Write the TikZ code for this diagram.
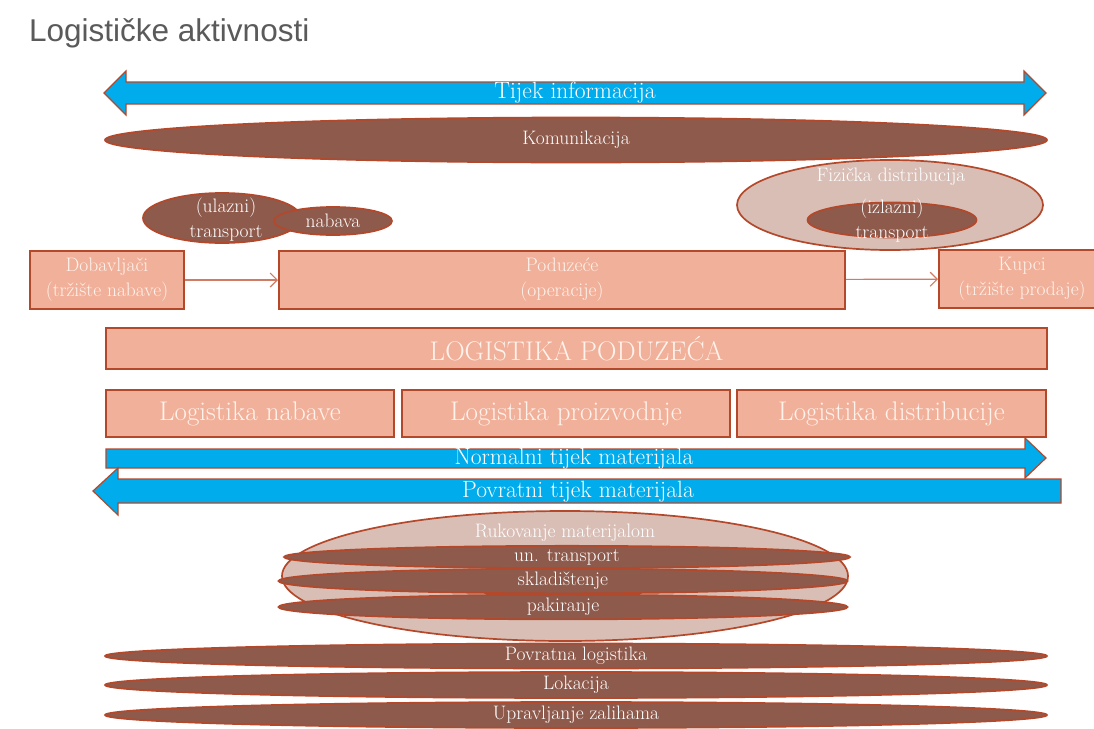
\documentclass[tikz,border=0pt]{standalone}
\usepackage{fontspec}
\newfontfamily\titlefont{Liberation Sans}
\usetikzlibrary{shapes.geometric,arrows.meta}
\definecolor{edgec}{RGB}{180,72,42}
\definecolor{boxfill}{RGB}{241,176,154}
\definecolor{darkfill}{RGB}{142,90,76}
\definecolor{lightfill}{RGB}{217,190,182}
\definecolor{bluec}{RGB}{0,172,236}
\definecolor{boxtext}{RGB}{255,243,236}
\definecolor{titlec}{RGB}{90,90,90}
\definecolor{linkc}{RGB}{208,124,100}
\newcommand\lblsmall{\fontsize{19.5}{25}\selectfont}
\newcommand\lblmid{\fontsize{23.5}{26}\selectfont}
\newcommand\lblbig{\fontsize{27}{29}\selectfont}
\tikzset{
 salbox/.style={draw=edgec, line width=2pt, fill=boxfill, rectangle, inner sep=0pt, text=boxtext, align=center},
 darkell/.style={draw=edgec, line width=1.7pt, fill=darkfill, ellipse, inner sep=0pt, text=white, font=\lblsmall},
 lightell/.style={draw=edgec, line width=1.7pt, fill=lightfill, ellipse, inner sep=0pt},
 bluearr/.style={draw=edgec, line width=1.2pt, fill=bluec},
 lbl/.style={text=white, inner sep=0pt, align=center},
 link/.style={draw=linkc, line width=1.2pt, -{Straight Barb[length=7pt,width=14pt]}},
}
\begin{document}
\begin{tikzpicture}[x=1pt,y=-1pt]
\useasboundingbox (0,0) rectangle (1094,728);
\fill[white] (0,0) rectangle (1094,728);
% title
\node[anchor=west, text=titlec, inner sep=0pt, font=\titlefont\fontsize{31.5}{34}\selectfont] (title) at (29,33) {Logističke aktivnosti};
% information flow
\draw[bluearr] (104,93) -- (126,71) -- (126,82) -- (1024,82) -- (1024,71) -- (1046,93) -- (1024,115) -- (1024,104) -- (126,104) -- (126,115) -- cycle;
\node[lbl, font=\lblmid] (tijek) at (575,93) {Tijek informacija};
% communication
\node[darkell, minimum width=942pt, minimum height=45pt] (kom) at (576,140) {Komunikacija};
% inbound
\node[darkell, minimum width=158pt, minimum height=50pt] (ulaz) at (222,218) {};
\node[darkell, minimum width=118pt, minimum height=28pt] (nab) at (333,221) {nabava};
\node[lbl, font=\lblsmall] (ulazt) at (226,220) {(ulazni)\\transport};
% outbound
\node[lightell, minimum width=306pt, minimum height=90pt] (fiz) at (890,205) {};
\node[darkell, minimum width=169pt, minimum height=35pt] (izl) at (892,220) {};
\node[lbl, font=\lblsmall] (fizt) at (891,177) {Fizička distribucija};
\node[lbl, font=\lblsmall] (izlt) at (892,221) {(izlazni)\\transport};
% boxes
\node[salbox, font=\lblsmall, minimum width=154pt, minimum height=58pt] (dob) at (107,280) {Dobavljači\\(tržište nabave)};
\node[salbox, font=\lblsmall, minimum width=566pt, minimum height=58pt] (pod) at (562,280) {Poduzeće\\(operacije)};
\node[salbox, font=\lblsmall, minimum width=166pt, minimum height=58pt] (kup) at (1022,279) {Kupci\\(tržište prodaje)};
\draw[link] (dob) -- (pod);
\draw[link] (pod) -- (kup);
\node[salbox, font=\lblbig, minimum width=941pt, minimum height=41pt] (lp) at (576.5,348.5) {LOGISTIKA PODUZEĆA};
\node[salbox, font=\lblbig, minimum width=288pt, minimum height=47pt] (ln) at (250,413.5) {Logistika nabave};
\node[salbox, font=\lblbig, minimum width=328pt, minimum height=47pt] (lpr) at (566,413.5) {Logistika proizvodnje};
\node[salbox, font=\lblbig, minimum width=309pt, minimum height=47pt] (ld) at (891.5,413.5) {Logistika distribucije};
% material flows
\draw[bluearr] (106,449) -- (1025,449) -- (1025,438) -- (1046,458) -- (1025,478) -- (1025,468) -- (106,468) -- cycle;
\node[lbl, font=\lblmid] (norm) at (574,459) {Normalni tijek materijala};
\draw[bluearr] (93,491) -- (118,468) -- (118,479) -- (1061,479) -- (1061,503) -- (118,503) -- (118,515) -- cycle;
\node[lbl, font=\lblmid] (povr) at (578,492) {Povratni tijek materijala};
% material handling
\node[lightell, minimum width=566pt, minimum height=130pt] (ruk) at (565,576) {};
\node[lbl, font=\lblsmall] (rukt) at (565,533) {Rukovanje materijalom};
\node[darkell, minimum width=566pt, minimum height=20pt] (unt) at (567,557) {un. transport};
\node[darkell, minimum width=569pt, minimum height=20pt] (skl) at (563,581) {skladištenje};
\node[darkell, minimum width=569pt, minimum height=22pt] (pak) at (563,607) {pakiranje};
% bottom activities
\node[darkell, minimum width=942pt, minimum height=25pt] (povl) at (576,656) {Povratna logistika};
\node[darkell, minimum width=942pt, minimum height=26pt] (lok) at (576,685) {Lokacija};
\node[darkell, minimum width=942pt, minimum height=26pt] (upr) at (576,715) {Upravljanje zalihama};
\end{tikzpicture}
\end{document}
